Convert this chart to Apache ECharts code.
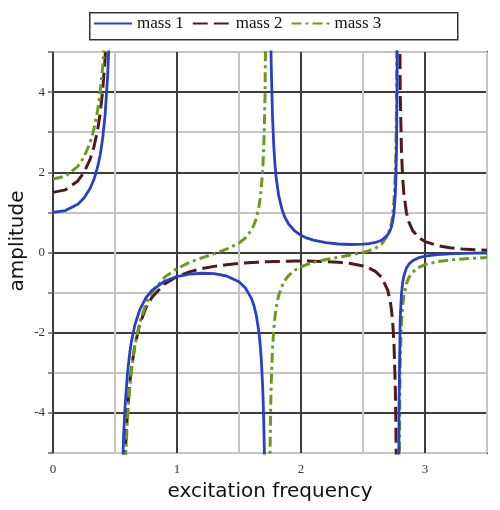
<!DOCTYPE html>
<html>
<head>
<meta charset="utf-8">
<script src="https://cdn.jsdelivr.net/npm/echarts@6/dist/echarts.min.js"></script>
<style>
  html, body { margin: 0; padding: 0; background: #fff; }
  #chart { width: 500px; height: 510px; }
</style>
</head>
<body>
<div id="chart"></div>
<script>
// excitation frequency samples (null rows mark the resonances)
const freq = [0, 0.1, 0.2, 0.25, 0.3, 0.33, 0.36, 0.38, 0.40, 0.42, 0.44, 0.45, 0.46, 0.508,
  0.54, 0.56, 0.57, 0.58, 0.60, 0.62, 0.63, 0.66, 0.70, 0.75, 0.80, 0.90, 1.0, 1.1, 1.2, 1.3, 1.4,
  1.5, 1.55, 1.6, 1.62, 1.64, 1.66, 1.67, 1.68, 1.69, 1.695, 1.70, 1.705, 1.71, 1.72, 1.732,
  1.745, 1.75, 1.755, 1.76, 1.77, 1.78, 1.79, 1.80, 1.82, 1.85, 1.87, 1.9, 1.95, 2.0, 2.05, 2.1,
  2.2, 2.3, 2.4, 2.5, 2.55, 2.6, 2.65, 2.7, 2.72, 2.73, 2.74, 2.75, 2.76, 2.765, 2.77, 2.775, 2.78, 2.7824,
  2.785, 2.79, 2.80, 2.81, 2.82, 2.83, 2.85, 2.87, 2.9, 2.95, 3.0, 3.1, 3.2, 3.3, 3.4, 3.5]

const mass1 = [1.0, 1.045, 1.205, 1.358, 1.601, 1.819, 2.133, 2.427, 2.834, 3.428, 4.375, 5.094, 6.114, null,
  -8.941, -5.441, -4.544, -3.897, -3.029, -2.473, -2.265, -1.807, -1.423, -1.127, -0.938, -0.717, -0.600, -0.539, -0.517, -0.529, -0.586,
  -0.731, -0.877, -1.143, -1.319, -1.574, -1.972, -2.268, -2.678, -3.285, -3.712, -4.272, -5.040, -6.156, -11.168, null,
  10.182, 7.317, 5.700, 4.662, 3.408, 2.677, 2.199, 1.863, 1.420, 1.039, 0.878, 0.710, 0.536, 0.429, 0.357, 0.308,
  0.245, 0.212, 0.199, 0.207, 0.221, 0.250, 0.307, 0.440, 0.557, 0.649, 0.785, 1.005, 1.423, 1.813, 2.519, 4.179, 12.82, null,
  -11.55, -3.927, -1.663, -1.039, -0.747, -0.578, -0.391, -0.290, -0.204, -0.130, -0.091, -0.052, -0.033, -0.023, -0.016, -0.012]

const mass2 = [1.5, 1.562, 1.784, 1.995, 2.329, 2.630, 3.061, 3.466, 4.024, 4.839, 6.139, 7.126, 8.523, null,
  -12.108, -7.309, -6.077, -5.190, -3.998, -3.235, -2.948, -2.317, -1.786, -1.374, -1.107, -0.785, -0.600, -0.483, -0.403, -0.346, -0.305,
  -0.274, -0.262, -0.252, -0.248, -0.244, -0.241, -0.239, -0.238, -0.236, -0.236, -0.235, -0.234, -0.234, -0.232, -0.231,
  -0.229, -0.229, -0.228, -0.228, -0.226, -0.225, -0.224, -0.224, -0.222, -0.220, -0.218, -0.217, -0.215, -0.214, -0.215, -0.217,
  -0.226, -0.243, -0.275, -0.336, -0.388, -0.470, -0.617, -0.945, -1.224, -1.444, -1.768, -2.293, -3.286, -4.212, -5.885, -9.823, -30.3, null,
  27.47, 9.393, 4.024, 2.543, 1.850, 1.448, 1.002, 0.759, 0.551, 0.370, 0.273, 0.172, 0.120, 0.090, 0.070, 0.056]

const mass3 = [1.833, 1.902, 2.146, 2.378, 2.745, 3.075, 3.548, 3.991, 4.602, 5.496, 6.919, 7.999, 9.529, null,
  -13.042, -7.790, -6.441, -5.470, -4.164, -3.328, -3.013, -2.320, -1.736, -1.281, -0.983, -0.618, -0.400, -0.250, -0.134, -0.030, 0.082,
  0.236, 0.358, 0.558, 0.683, 0.861, 1.134, 1.335, 1.613, 2.021, 2.308, 2.683, 3.196, 3.942, 7.287, null,
  -6.937, -5.025, -3.946, -3.253, -2.413, -1.922, -1.601, -1.373, -1.071, -0.808, -0.695, -0.574, -0.443, -0.357, -0.295, -0.248,
  -0.176, -0.118, -0.063, 0.002, 0.047, 0.109, 0.211, 0.428, 0.608, 0.748, 0.955, 1.288, 1.918, 2.505, 3.564, 6.056, 19.02, null,
  -17.54, -6.099, -2.701, -1.763, -1.323, -1.067, -0.782, -0.626, -0.490, -0.370, -0.303, -0.229, -0.188, -0.161, -0.141, -0.126]

const seriesNames = ['mass 1', 'mass 2', 'mass 3']

const chart = echarts.init(document.getElementById('chart'))

function pairs(ys) {
  return freq.map(function(f, i) { return [f, ys[i]] })
}

const serif = 'Liberation Serif, Times New Roman, serif'
const sans = 'DejaVu Sans, sans-serif'

function lineSeries(name, color, width, dash, z, ys) {
  return {
    name: name,
    type: 'line',
    symbol: 'none',
    showSymbol: false,
    connectNulls: false,
    z: z,
    lineStyle: { color: color, width: width, type: dash, join: 'round' },
    itemStyle: { color: color },
    data: pairs(ys)
  }
}

chart.setOption({
  animation: false,
  backgroundColor: '#fff',
  grid: {
    left: 53,
    top: 52,
    width: 434,
    height: 401,
    show: true,
    borderColor: '#333',
    borderWidth: 2,
    backgroundColor: 'transparent'
  },
  legend: {
    left: 93,
    top: 15,
    padding: 0,
    itemWidth: 38,
    itemHeight: 14,
    itemGap: 8,
    data: seriesNames,
    itemStyle: { opacity: 0 },
    textStyle: { fontFamily: serif, fontSize: 17, color: '#111' }
  },
  xAxis: {
    type: 'value',
    min: 0,
    max: 3.5,
    interval: 0.5,
    axisLine: { show: false },
    axisTick: { show: false },
    axisLabel: {
      margin: 10,
      fontFamily: serif,
      fontSize: 13,
      color: '#333',
      formatter: function(v) { return v % 1 === 0 ? String(v) : '' }
    },
    splitLine: {
      show: true,
      lineStyle: { color: ['#3c3c3c', '#c4c4c4'], width: 2 }
    }
  },
  yAxis: {
    type: 'value',
    min: -5,
    max: 5,
    interval: 1,
    axisLine: { show: false },
    axisTick: { show: true, length: 5, lineStyle: { color: '#666', width: 1.5 } },
    axisLabel: {
      margin: 8,
      fontFamily: serif,
      fontSize: 13,
      color: '#333',
      formatter: function(v) { return v % 2 === 0 ? String(v) : '' }
    },
    splitLine: {
      show: true,
      lineStyle: { color: ['#c4c4c4', '#3c3c3c'], width: 2 }
    }
  },
  graphic: [
    {
      type: 'rect',
      left: 89,
      top: 12,
      shape: { width: 368, height: 27 },
      style: { fill: 'transparent', stroke: '#333', lineWidth: 1.5 },
      z: 0
    },
    {
      type: 'text',
      x: 18,
      y: 241,
      rotation: Math.PI / 2,
      style: {
        text: 'amplitude',
        font: '20px ' + sans,
        fill: '#111',
        textAlign: 'center',
        textVerticalAlign: 'middle'
      }
    },
    {
      type: 'text',
      x: 270,
      y: 492,
      style: {
        text: 'excitation frequency',
        font: '20px ' + sans,
        fill: '#111',
        textAlign: 'center',
        textVerticalAlign: 'middle'
      }
    }
  ],
  series: [
    lineSeries(seriesNames[0], '#2740c8', 2.8, 'solid', 4, mass1),
    lineSeries(seriesNames[1], '#4e1a1a', 3, [15, 6], 3, mass2),
    lineSeries(seriesNames[2], '#6c9b1a', 3, [10, 4, 3, 4], 3, mass3)
  ]
})
</script>
</body>
</html>
